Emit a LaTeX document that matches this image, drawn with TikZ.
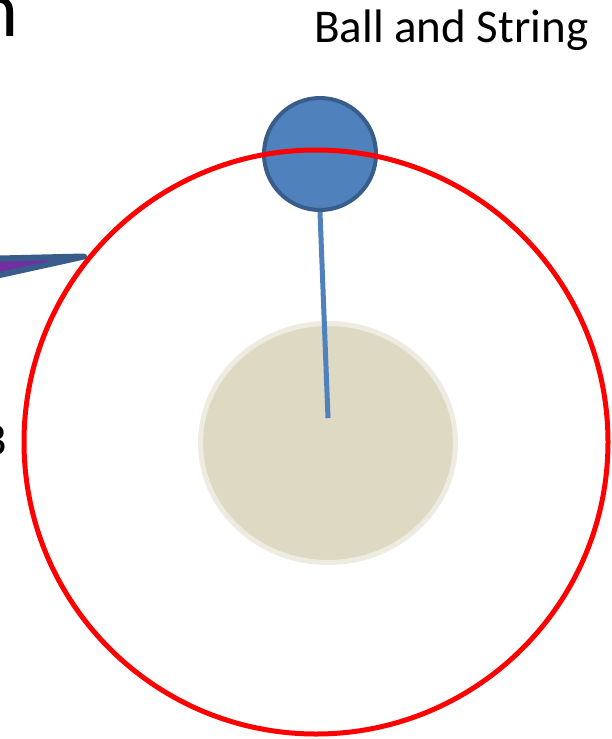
\documentclass[tikz,border=0pt]{standalone}
\usepackage{fontspec}
\setmainfont{Carlito}
\usetikzlibrary{shapes.geometric}
\definecolor{ballblue}{HTML}{4F81BD}
\definecolor{balledge}{HTML}{385D8A}
\definecolor{beige}{HTML}{DDD9C3}
\definecolor{beigeedge}{HTML}{EEECE1}
\definecolor{wedgepurple}{HTML}{7030A0}
\tikzset{
  ballstyle/.style={circle, fill=ballblue, draw=balledge, line width=4pt, minimum size=112pt, inner sep=0pt},
  centerstyle/.style={ellipse, fill=beige, draw=beigeedge, line width=5pt, minimum width=255pt, minimum height=239pt, inner sep=0pt},
  stringstyle/.style={draw=ballblue, line width=5pt},
  orbitstyle/.style={draw=red, line width=5pt},
  wedgestyle/.style={fill=wedgepurple, draw=balledge, line width=6pt, line join=round},
  labelstyle/.style={font=\fontsize{47}{51}\selectfont, inner sep=0pt}
}
\begin{document}
\begin{tikzpicture}[x=1pt,y=-1pt]
\useasboundingbox (0,0) rectangle (611,739);
\fill[white] (0,0) rectangle (611,739);
\begin{scope}
\clip (0,0) rectangle (611,739);
% cut-off texts
\node[anchor=base east, font=\fontsize{80}{90}\selectfont, inner sep=0pt] (title) at (19,36) {n};
\node[anchor=base east, labelstyle] (bletter) at (7,455) {B};
% wedge
\coordinate (tip) at (84,256.5);
\draw[wedgestyle] (-30,259.2) -- (tip) -- (-30,281.6) -- cycle;
% centre body
\node[centerstyle] (centre) at (328,443) {};
\coordinate (hub) at (328,418);
% ball
\node[ballstyle] (ball) at (320,154) {};
% string
\draw[stringstyle] (ball.south) -- (hub);
% orbit
\node[circle, orbitstyle, minimum size=584pt, inner sep=0pt] (orbit) at (316,442) {};
% label
\node[anchor=base west, labelstyle] (label) at (314,42) {Ball and String};
\end{scope}
\end{tikzpicture}
\end{document}
